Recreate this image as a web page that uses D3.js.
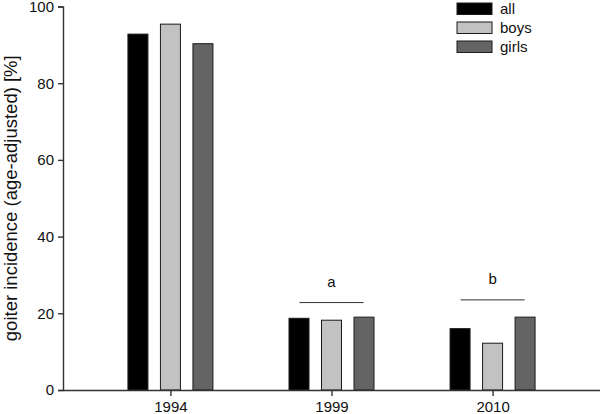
<!DOCTYPE html>
<html>
<head>
<meta charset="utf-8">
<script src="https://cdn.jsdelivr.net/npm/d3@7"></script>
<style>
  body { margin: 0; background: #fff; }
  svg { display: block; font-family: "Liberation Sans", Arial, sans-serif; }
</style>
</head>
<body>
<svg id="chart" width="600" height="414"></svg>
<script>
const years = ["1994", "1999", "2010"];
const groups = ["all", "boys", "girls"];
const allValues = [92.8, 18.7, 16.0];
const boysValues = [95.4, 18.2, 12.2];
const girlsValues = [90.3, 19.0, 19.0];
const yTicks = [0, 20, 40, 60, 80, 100];
const annotations = [
  { year: "1999", label: "a", level: 22.8 },
  { year: "2010", label: "b", level: 23.5 }
];

const colors = { all: "#000000", boys: "#c2c2c2", girls: "#646464" };
const valuesByGroup = { all: allValues, boys: boysValues, girls: girlsValues };

const width = 600, height = 414;
const marginLeft = 63, marginBottom = 24, marginTop = 6.5;

const svg = d3.select("#chart");

const x = d3.scalePoint().domain(years).range([marginLeft, width]).padding(0.667);
const y = d3.scaleLinear().domain([0, 100]).range([height - marginBottom, marginTop]);
const offset = d3.scaleBand().domain(groups).range([-42.5, 42.5]).paddingInner(0.385);

const data = years.flatMap((yr, i) =>
  groups.map((g) => ({ year: yr, group: g, value: valuesByGroup[g][i] }))
);

// bars
svg.append("g")
  .selectAll("rect")
  .data(data)
  .join("rect")
  .attr("x", (d) => x(d.year) + offset(d.group))
  .attr("width", offset.bandwidth())
  .attr("y", (d) => y(d.value))
  .attr("height", (d) => y(0) - y(d.value))
  .attr("fill", (d) => colors[d.group])
  .attr("stroke", "#1a1a1a")
  .attr("stroke-width", 1);

// y axis
const yAxis = svg.append("g")
  .attr("transform", `translate(${marginLeft},0)`)
  .call(d3.axisLeft(y).tickValues(yTicks).tickSize(5).tickPadding(4));
yAxis.select(".domain").attr("stroke", "#333").attr("stroke-width", 1.4);
yAxis.selectAll(".tick line").attr("stroke", "#333").attr("stroke-width", 1.4);
yAxis.selectAll("text").attr("font-size", 15).attr("fill", "#111");

// x axis
const xAxis = svg.append("g")
  .attr("transform", `translate(0,${height - marginBottom})`)
  .call(d3.axisBottom(x).tickSize(6).tickPadding(5).tickSizeOuter(0));
xAxis.select(".domain").attr("stroke", "#333").attr("stroke-width", 1.4);
xAxis.selectAll(".tick line").attr("stroke", "#333").attr("stroke-width", 1.4);
xAxis.selectAll("text").attr("font-size", 15).attr("fill", "#111");

// y label
svg.append("text")
  .attr("transform", `translate(17,${(y(0) + y(100)) / 2}) rotate(-90)`)
  .attr("text-anchor", "middle")
  .attr("font-size", 18.5)
  .attr("fill", "#111")
  .text("goiter incidence (age-adjusted) [%]");

// significance annotations
const ann = svg.append("g").selectAll("g").data(annotations).join("g");
ann.append("line")
  .attr("x1", (d) => x(d.year) - 32)
  .attr("x2", (d) => x(d.year) + 32)
  .attr("y1", (d) => y(d.level))
  .attr("y2", (d) => y(d.level))
  .attr("stroke", "#333")
  .attr("stroke-width", 1);
ann.append("text")
  .attr("x", (d) => x(d.year))
  .attr("y", (d) => y(d.level) - 16)
  .attr("text-anchor", "middle")
  .attr("font-size", 15)
  .attr("fill", "#111")
  .text((d) => d.label);

// legend
const legend = svg.append("g")
  .attr("transform", "translate(457,3)")
  .selectAll("g")
  .data(groups)
  .join("g")
  .attr("transform", (d, i) => `translate(0,${i * 19})`);
legend.append("rect")
  .attr("width", 35)
  .attr("height", 11.5)
  .attr("fill", (d) => colors[d])
  .attr("stroke", "#1a1a1a")
  .attr("stroke-width", 1);
legend.append("text")
  .attr("x", 43)
  .attr("y", 6)
  .attr("dy", "0.35em")
  .attr("font-size", 15)
  .attr("fill", "#111")
  .text((d) => d);
</script>
</body>
</html>
